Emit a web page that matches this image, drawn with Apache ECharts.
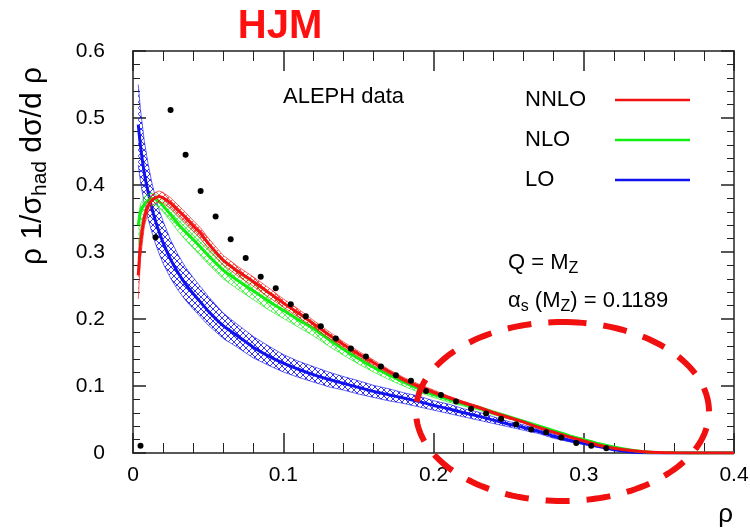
<!DOCTYPE html>
<html>
<head>
<meta charset="utf-8">
<script src="https://cdn.jsdelivr.net/npm/echarts@6/dist/echarts.min.js"></script>
<style>
  html, body { margin: 0; padding: 0; background: #ffffff; }
  #chart { width: 750px; height: 529px; }
</style>
</head>
<body>
<div id="chart"></div>
<script>
// Heavy jet mass distribution: theory curves (LO / NLO / NNLO with scale bands) and ALEPH data
const rho = [0.0035, 0.005, 0.0075, 0.01, 0.0125, 0.015, 0.0175, 0.02, 0.025, 0.03, 0.035, 0.04, 0.045, 0.05,
  0.06, 0.07, 0.08, 0.09, 0.1, 0.11, 0.12, 0.13, 0.14, 0.15, 0.16, 0.17, 0.18, 0.19, 0.2, 0.21, 0.22, 0.23,
  0.24, 0.25, 0.26, 0.27, 0.28, 0.29, 0.3, 0.31, 0.32, 0.33, 0.34, 0.35, 0.36, 0.38, 0.4];

const loCentral = [0.490, 0.458, 0.418, 0.390, 0.366, 0.346, 0.329, 0.314, 0.289, 0.269, 0.252, 0.238, 0.225, 0.212,
  0.190, 0.174, 0.158, 0.145, 0.134, 0.125, 0.117, 0.110, 0.104, 0.098, 0.092, 0.087, 0.082, 0.077, 0.071, 0.066, 0.060, 0.055,
  0.049, 0.043, 0.038, 0.032, 0.025, 0.019, 0.0144, 0.0095, 0.0050, 0.0020, 0.0004, 0, 0, 0, 0];
const loLow = [0.430, 0.405, 0.372, 0.350, 0.330, 0.312, 0.297, 0.283, 0.261, 0.243, 0.228, 0.215, 0.203, 0.191,
  0.171, 0.157, 0.142, 0.131, 0.121, 0.113, 0.106, 0.099, 0.094, 0.088, 0.083, 0.078, 0.074, 0.069, 0.064, 0.059, 0.054, 0.049,
  0.044, 0.039, 0.034, 0.029, 0.022, 0.017, 0.0128, 0.0085, 0.0044, 0.0017, 0.0003, 0, 0, 0, 0];
const loHigh = [0.550, 0.512, 0.466, 0.432, 0.404, 0.381, 0.362, 0.346, 0.318, 0.296, 0.277, 0.262, 0.248, 0.234,
  0.209, 0.191, 0.174, 0.160, 0.147, 0.137, 0.129, 0.121, 0.114, 0.108, 0.101, 0.096, 0.090, 0.085, 0.078, 0.073, 0.066, 0.061,
  0.054, 0.047, 0.042, 0.035, 0.028, 0.021, 0.016, 0.0105, 0.0056, 0.0023, 0.0005, 0, 0, 0, 0];

const nloCentral = [0.340, 0.360, 0.371, 0.377, 0.380, 0.379, 0.375, 0.369, 0.356, 0.342, 0.330, 0.319, 0.307, 0.295,
  0.273, 0.257, 0.242, 0.227, 0.213, 0.199, 0.186, 0.170, 0.155, 0.141, 0.128, 0.117, 0.106, 0.096, 0.087, 0.080, 0.073, 0.067,
  0.060, 0.054, 0.047, 0.040, 0.033, 0.026, 0.020, 0.014, 0.009, 0.005, 0.002, 0.0007, 0.0002, 0, 0];
const nloLow = [0.310, 0.340, 0.357, 0.366, 0.370, 0.370, 0.366, 0.360, 0.346, 0.331, 0.318, 0.306, 0.294, 0.282,
  0.260, 0.244, 0.229, 0.214, 0.201, 0.188, 0.175, 0.160, 0.146, 0.133, 0.121, 0.110, 0.100, 0.091, 0.083, 0.076, 0.070, 0.064,
  0.057, 0.051, 0.045, 0.038, 0.031, 0.025, 0.019, 0.013, 0.0085, 0.0047, 0.0019, 0.0006, 0.0002, 0, 0];
const nloHigh = [0.352, 0.372, 0.382, 0.386, 0.388, 0.386, 0.382, 0.377, 0.364, 0.352, 0.341, 0.331, 0.319, 0.307,
  0.285, 0.268, 0.253, 0.238, 0.224, 0.209, 0.195, 0.179, 0.163, 0.148, 0.134, 0.123, 0.111, 0.100, 0.091, 0.084, 0.076, 0.070,
  0.063, 0.056, 0.049, 0.042, 0.035, 0.027, 0.021, 0.015, 0.0095, 0.0053, 0.0021, 0.0008, 0.0002, 0, 0];

const nnloCentral = [0.265, 0.312, 0.350, 0.368, 0.377, 0.381, 0.383, 0.381, 0.373, 0.362, 0.351, 0.339, 0.328, 0.313,
  0.288, 0.271, 0.256, 0.240, 0.224, 0.209, 0.193, 0.177, 0.162, 0.148, 0.135, 0.122, 0.110, 0.100, 0.091, 0.083, 0.075, 0.068,
  0.060, 0.053, 0.046, 0.038, 0.031, 0.024, 0.018, 0.0115, 0.0070, 0.0040, 0.0020, 0.0007, 0.0002, 0, 0];
const nnloLow = [0.230, 0.290, 0.338, 0.359, 0.369, 0.373, 0.375, 0.373, 0.365, 0.354, 0.343, 0.331, 0.320, 0.305,
  0.281, 0.264, 0.249, 0.233, 0.218, 0.203, 0.188, 0.172, 0.158, 0.144, 0.131, 0.119, 0.107, 0.097, 0.088, 0.081, 0.073, 0.066,
  0.058, 0.051, 0.045, 0.037, 0.030, 0.023, 0.017, 0.011, 0.0066, 0.0038, 0.0019, 0.0006, 0.0002, 0, 0];
const nnloHigh = [0.290, 0.330, 0.360, 0.376, 0.385, 0.389, 0.391, 0.389, 0.381, 0.370, 0.359, 0.347, 0.336, 0.321,
  0.295, 0.278, 0.263, 0.247, 0.230, 0.215, 0.198, 0.182, 0.166, 0.152, 0.139, 0.125, 0.113, 0.103, 0.094, 0.085, 0.077, 0.070,
  0.062, 0.055, 0.047, 0.039, 0.032, 0.025, 0.019, 0.012, 0.0074, 0.0042, 0.0021, 0.0008, 0.0002, 0, 0];

// ALEPH measurement (bin centres)
const alephRho = [0.005, 0.015, 0.025, 0.035, 0.045, 0.055, 0.065, 0.075, 0.085, 0.095, 0.105, 0.115, 0.125, 0.135,
  0.145, 0.155, 0.165, 0.175, 0.185, 0.195, 0.205, 0.215, 0.225, 0.235, 0.245, 0.255, 0.265, 0.275, 0.285, 0.295, 0.305, 0.315];
const alephValues = [0.011, 0.322, 0.512, 0.445, 0.391, 0.353, 0.319, 0.291, 0.263, 0.246, 0.222, 0.204, 0.189, 0.171,
  0.156, 0.144, 0.129, 0.116, 0.108, 0.0925, 0.0866, 0.077, 0.066, 0.059, 0.051, 0.043, 0.035, 0.031, 0.023, 0.015, 0.011, 0.007];

const xTickLabels = ['0', '0.1', '0.2', '0.3', '0.4'];
const yTickLabels = ['0', '0.1', '0.2', '0.3', '0.4', '0.5', '0.6'];

const FONT = '"Liberation Sans", Arial, Helvetica, sans-serif';
const RED = '#f21212', GREEN = '#12ee12', BLUE = '#1212ee';

// cross-hatch tile used to fill the scale-variation bands
function hatch(color, alpha, size) {
  const c = document.createElement('canvas');
  c.width = size; c.height = size;
  const g = c.getContext('2d');
  g.strokeStyle = color;
  g.globalAlpha = alpha;
  g.lineWidth = 1;
  g.beginPath();
  g.moveTo(-1, -1); g.lineTo(size + 1, size + 1);
  g.moveTo(size + 1, -1); g.lineTo(-1, size + 1);
  g.stroke();
  return c;
}

// band between the low and high curves, drawn as one polygon in data coordinates
function bandSeries(name, low, high, color, pattern, z) {
  return {
    name: name + ' band', type: 'custom', silent: true, z: z,
    data: rho.map((x, i) => [x, low[i], high[i]]),
    encode: { x: 0, y: [1, 2] },
    renderItem: function (params, api) {
      if (params.dataIndex !== 0) return null;
      const lowPts = rho.map((x, i) => api.coord([x, low[i]]));
      const highPts = rho.map((x, i) => api.coord([x, high[i]]));
      const poly = lowPts.concat(highPts.slice().reverse());
      const edge = { fill: null, stroke: color, lineWidth: 0.8, opacity: 0.8 };
      return {
        type: 'group',
        children: [
          { type: 'polygon', shape: { points: poly, smooth: 0 }, style: { fill: { image: pattern, repeat: 'repeat' }, stroke: null } },
          { type: 'polyline', shape: { points: lowPts }, style: edge },
          { type: 'polyline', shape: { points: highPts }, style: edge }
        ]
      };
    }
  };
}

function curveSeries(name, values, color, z) {
  return {
    name: name, type: 'line', symbol: 'none', showSymbol: false, z: z, silent: true, smooth: 0.2,
    color: color, lineStyle: { color: color, width: 3 }, itemStyle: { color: color },
    data: rho.map((x, i) => [x, values[i]])
  };
}

const chart = echarts.init(document.getElementById('chart'), null, { renderer: 'canvas' });

const axisLineStyle = { color: '#222', width: 1.5 };
const minorStyle = { color: '#222', width: 1 };

const option = {
  animation: false,
  backgroundColor: '#ffffff',
  grid: { left: 133, right: 16, top: 51, bottom: 76, containLabel: false, outerBoundsMode: 'none' },
  xAxis: [
    {
      type: 'value', min: 0, max: 0.4, interval: 0.1, position: 'bottom',
      axisLine: { show: true, onZero: false, lineStyle: axisLineStyle },
      axisTick: { show: true, inside: true, length: 20, lineStyle: axisLineStyle },
      minorTick: { show: true, splitNumber: 5, length: 10, lineStyle: minorStyle },
      splitLine: { show: false },
      axisLabel: {
        fontSize: 21, fontFamily: FONT, color: '#000', margin: 12,
        formatter: v => xTickLabels[Math.round(v / 0.1)]
      }
    },
    {
      type: 'value', min: 0, max: 0.4, interval: 0.1, position: 'top',
      axisLine: { show: true, onZero: false, lineStyle: axisLineStyle },
      axisTick: { show: true, inside: true, length: 20, lineStyle: axisLineStyle },
      minorTick: { show: true, splitNumber: 5, length: 10, lineStyle: minorStyle },
      splitLine: { show: false },
      axisLabel: { show: false }
    }
  ],
  yAxis: [
    {
      type: 'value', min: 0, max: 0.6, interval: 0.1, position: 'left',
      axisLine: { show: true, onZero: false, lineStyle: axisLineStyle },
      axisTick: { show: true, inside: true, length: 13, lineStyle: axisLineStyle },
      minorTick: { show: true, splitNumber: 5, length: 7, lineStyle: minorStyle },
      splitLine: { show: false },
      axisLabel: {
        fontSize: 21, fontFamily: FONT, color: '#000', margin: 28,
        formatter: v => yTickLabels[Math.round(v / 0.1)]
      }
    },
    {
      type: 'value', min: 0, max: 0.6, interval: 0.1, position: 'right',
      axisLine: { show: true, onZero: false, lineStyle: axisLineStyle },
      axisTick: { show: true, inside: true, length: 13, lineStyle: axisLineStyle },
      minorTick: { show: true, splitNumber: 5, length: 7, lineStyle: minorStyle },
      splitLine: { show: false },
      axisLabel: { show: false }
    }
  ],
  legend: {
    data: [{ name: 'NNLO', icon: 'rect' }, { name: 'NLO', icon: 'rect' }, { name: 'LO', icon: 'rect' }],
    orient: 'vertical', left: 520, top: 84, align: 'right',
    itemWidth: 75, itemHeight: 2.5, itemGap: 18, selectedMode: false,
    formatter: n => '{t|' + n + '}',
    textStyle: {
      fontSize: 22, fontFamily: FONT, color: '#000',
      rich: { t: { width: 85, align: 'left', fontSize: 22, lineHeight: 22, fontFamily: FONT, color: '#000' } }
    }
  },
  series: [
    bandSeries('LO', loLow, loHigh, BLUE, hatch(BLUE, 0.85, 6), 2),
    curveSeries('LO', loCentral, BLUE, 3),
    bandSeries('NLO', nloLow, nloHigh, GREEN, hatch(GREEN, 0.7, 6), 4),
    curveSeries('NLO', nloCentral, GREEN, 5),
    bandSeries('NNLO', nnloLow, nnloHigh, RED, hatch(RED, 0.7, 6), 6),
    curveSeries('NNLO', nnloCentral, RED, 7),
    {
      name: 'ALEPH data', type: 'scatter', symbol: 'circle', symbolSize: 6, z: 8, silent: true,
      itemStyle: { color: '#000', opacity: 1 },
      data: alephRho.map((x, i) => [x, alephValues[i]])
    }
  ]
};

chart.setOption(option);

// Annotations: title, axis titles, labels and the highlighted tail region
const ellipse = { cx: 562.5, cy: 411.5, rx: 146.5, ry: 89.5 };
const ellipsePts = [];
for (let k = 0; k <= 180; k++) {
  const t = -Math.PI / 2 + (k / 180) * 2 * Math.PI;
  ellipsePts.push([ellipse.cx + ellipse.rx * Math.cos(t), ellipse.cy + ellipse.ry * Math.sin(t)]);
}

chart.setOption({
  graphic: [
    {
      type: 'text', x: 280, y: 27, z: 20,
      style: { text: 'HJM', font: 'bold 40px ' + FONT, fill: '#ff1010', align: 'center', verticalAlign: 'middle' }
    },
    {
      type: 'text', x: 283, y: 97, z: 20,
      style: { text: 'ALEPH data', font: '22px ' + FONT, fill: '#000', align: 'left', verticalAlign: 'middle' }
    },
    {
      type: 'text', x: 508, y: 263, z: 20,
      style: {
        text: '{m|Q = M}{s|Z}', align: 'left', verticalAlign: 'middle',
        rich: {
          m: { fontSize: 22, fontFamily: FONT, fill: '#000' },
          s: { fontSize: 16, fontFamily: FONT, fill: '#000', padding: [12, 0, 0, 0] }
        }
      }
    },
    {
      type: 'text', x: 508, y: 301, z: 20,
      style: {
        text: '{m|α}{s|s}{m| (M}{s|Z}{m|) = 0.1189}', align: 'left', verticalAlign: 'middle',
        rich: {
          m: { fontSize: 22, fontFamily: FONT, fill: '#000' },
          s: { fontSize: 16, fontFamily: FONT, fill: '#000', padding: [12, 0, 0, 0] }
        }
      }
    },
    {
      type: 'text', x: 33, y: 166, rotation: Math.PI / 2, z: 20,
      style: {
        text: '{m|ρ 1/σ}{s|had}{m| dσ/d ρ}', align: 'center', verticalAlign: 'middle',
        rich: {
          m: { fontSize: 30, fontFamily: FONT, fill: '#000' },
          s: { fontSize: 21, fontFamily: FONT, fill: '#000', padding: [14, 0, 0, 0] }
        }
      }
    },
    {
      type: 'text', x: 733, y: 515, z: 20,
      style: { text: 'ρ', font: '26px ' + FONT, fill: '#000', align: 'right', verticalAlign: 'middle' }
    },
    {
      type: 'polygon', z: 30, silent: true,
      shape: { points: ellipsePts },
      style: { fill: null, stroke: '#f01010', lineWidth: 6, lineDash: [24, 17] }
    }
  ]
});
</script>
</body>
</html>
